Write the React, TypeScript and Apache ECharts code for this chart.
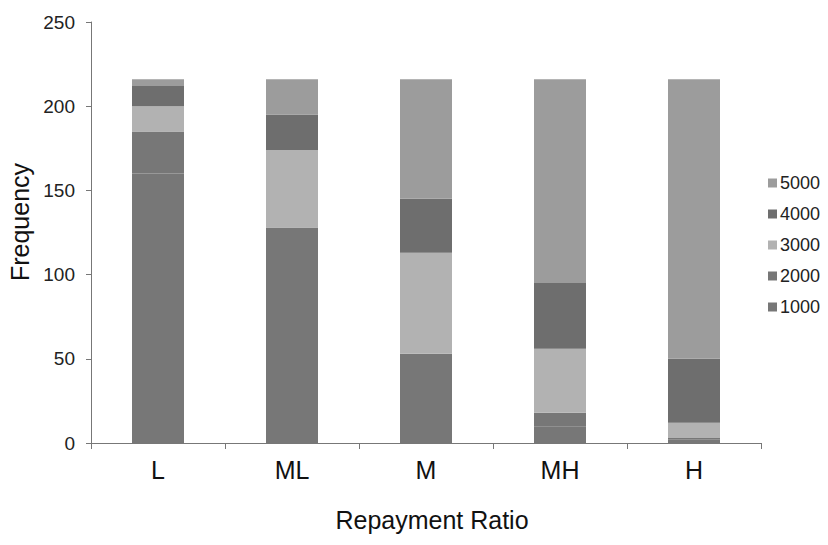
import React, { useEffect, useRef } from "react";
import * as echarts from "echarts";

const categories = ["L", "ML", "M", "MH", "H"];
const seriesNames = ["1000", "2000", "3000", "4000", "5000"];
const s1000 = [160, 95, 35, 10, 2];
const s2000 = [25, 33, 18, 8, 1];
const s3000 = [15, 46, 60, 38, 9];
const s4000 = [12, 21, 32, 39, 38];
const s5000 = [4, 21, 71, 121, 166];
const yTicks = { min: 0, max: 250, interval: 50 };

const colors = ["#777777", "#777777", "#b2b2b2", "#6e6e6e", "#9c9c9c"];
const FONT = "'Liberation Sans', Arial, sans-serif";

export default function App() {
  const ref = useRef<HTMLDivElement>(null);
  useEffect(() => {
    if (!ref.current) return;
    const chart = echarts.init(ref.current, undefined, { renderer: "svg" });
    const values = [s1000, s2000, s3000, s4000, s5000];
    chart.setOption({
      animation: false,
      backgroundColor: "#ffffff",
      textStyle: { fontFamily: FONT },
      grid: { left: 91, right: 67, top: 22, bottom: 102 },
      legend: {
        orient: "vertical",
        left: 763,
        top: 169,
        itemWidth: 9,
        itemHeight: 9,
        itemGap: 13,
        icon: "rect",
        data: ["5000", "4000", "3000", "2000", "1000"],
        textStyle: { fontSize: 18, color: "#222", fontFamily: FONT, padding: [0, 0, 0, -2] },
      },
      xAxis: {
        type: "category",
        data: categories,
        axisLine: { show: true, lineStyle: { color: "#777", width: 1 } },
        axisTick: { show: true, length: 6, lineStyle: { color: "#777" } },
        axisLabel: { fontSize: 25, color: "#111", margin: 14, fontFamily: FONT },
      },
      yAxis: {
        type: "value",
        min: yTicks.min,
        max: yTicks.max,
        interval: yTicks.interval,
        axisLine: { show: true, lineStyle: { color: "#777", width: 1 } },
        axisTick: { show: true, length: 5, lineStyle: { color: "#777" } },
        splitLine: { show: false },
        axisLabel: { fontSize: 19, color: "#222", margin: 16, fontFamily: FONT },
      },
      graphic: [
        {
          type: "text",
          x: 20,
          y: 222,
          rotation: Math.PI / 2,
          style: {
            text: "Frequency",
            fontSize: 25,
            fill: "#111",
            fontFamily: FONT,
            align: "center",
            verticalAlign: "middle",
          },
        },
        {
          type: "text",
          x: 432,
          y: 520,
          style: {
            text: "Repayment Ratio",
            fontSize: 25,
            fill: "#111",
            fontFamily: FONT,
            align: "center",
            verticalAlign: "middle",
          },
        },
      ],
      series: seriesNames.map((name, i) => ({
        name,
        type: "bar",
        stack: "total",
        barWidth: 52,
        data: values[i],
        itemStyle: { color: colors[i] },
      })),
    });
    return () => chart.dispose();
  }, []);
  return <div ref={ref} style={{ width: 828, height: 545, margin: -8 }} />;
}
